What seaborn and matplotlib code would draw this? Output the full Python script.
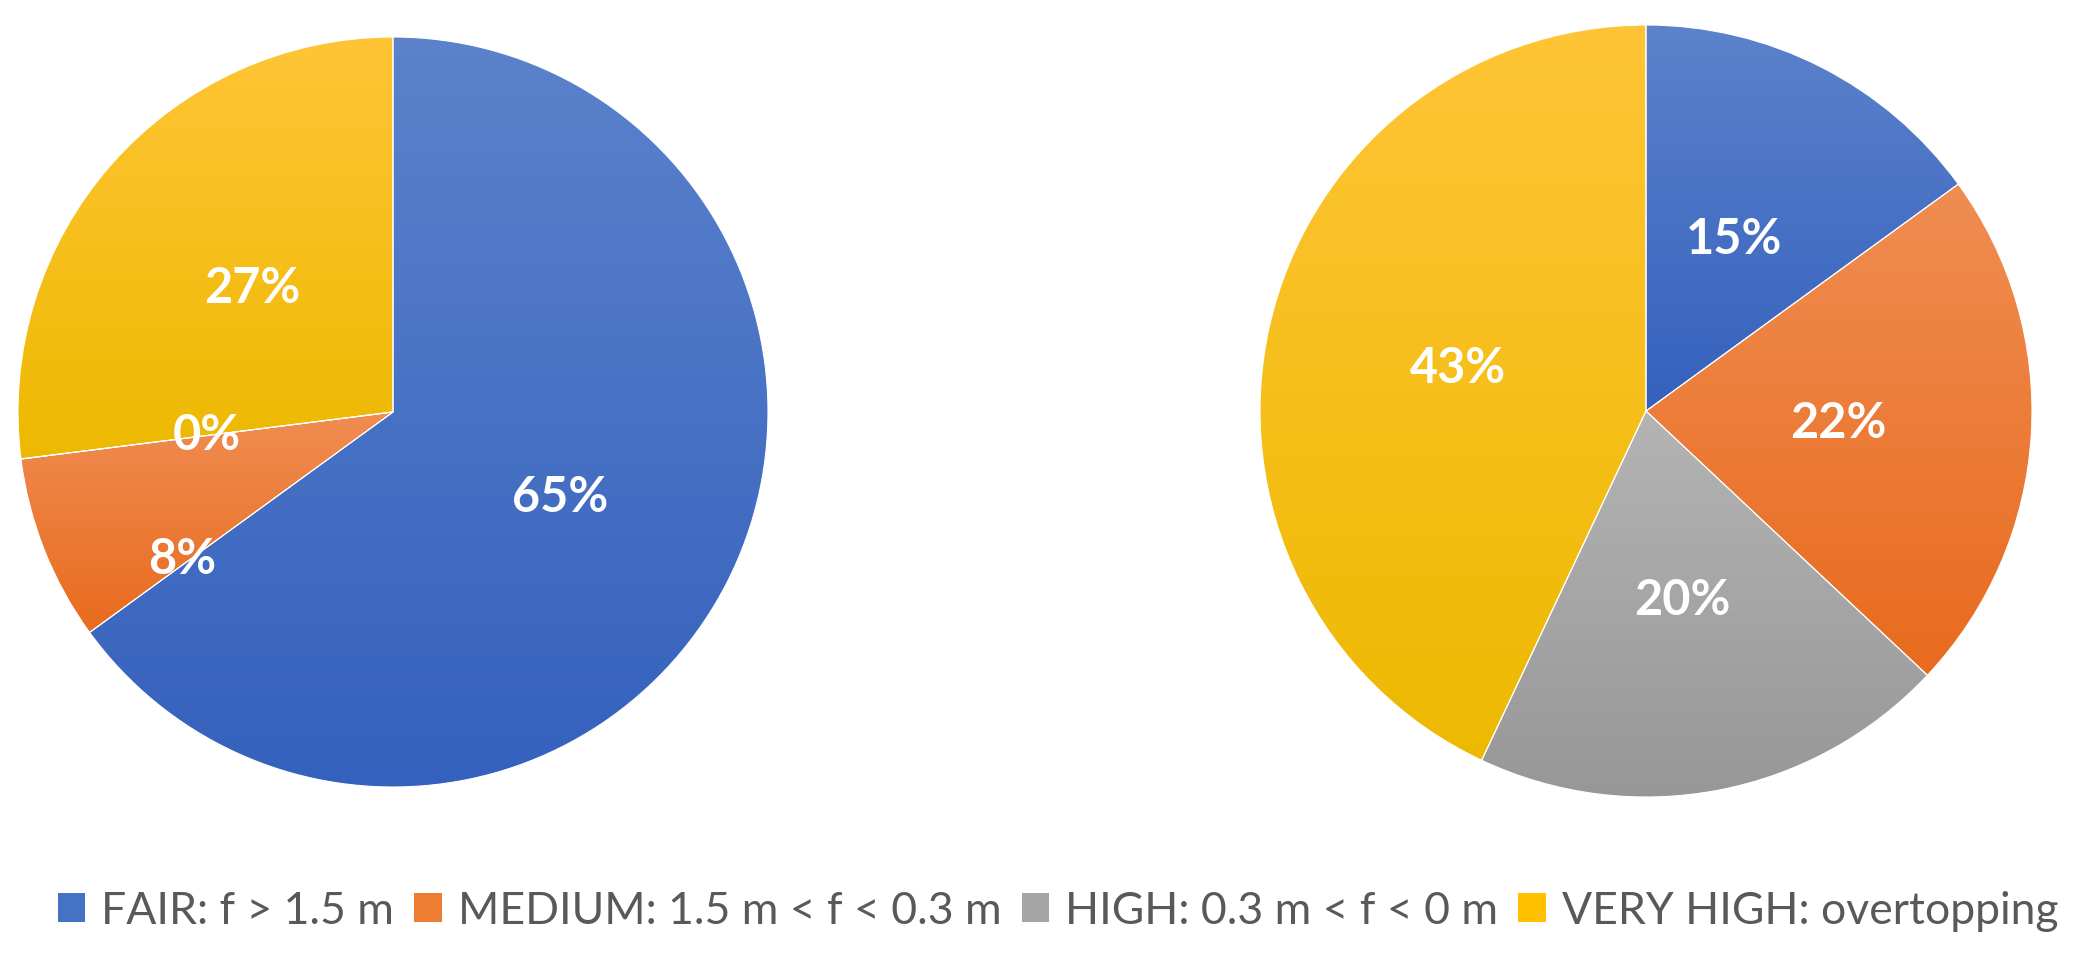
import numpy as np
import matplotlib
matplotlib.use("Agg")
import matplotlib.pyplot as plt
import matplotlib.colors as mcolors
from matplotlib.patches import Patch
import seaborn as sns

# ---- data ----
categories = ["FAIR: f > 1.5 m", "MEDIUM: 1.5 m < f < 0.3 m",
              "HIGH: 0.3 m < f < 0 m", "VERY HIGH: overtopping"]
left_values = [65, 8, 0, 27]
right_values = [15, 22, 20, 43]
base_colors = ["#4472C4", "#ED7D31", "#A5A5A5", "#FFC000"]
top_colors = ["#5B82CB", "#F08D52", "#B4B4B4", "#FFC536"]
bottom_colors = ["#3461BD", "#E86B1E", "#979797", "#EDB900"]

sns.set_theme(style="white")
plt.rcParams["font.family"] = ["Lato", "DejaVu Sans"]

W, H = 2074, 959
fig = plt.figure(figsize=(W / 100, H / 100), dpi=100)
fig.patch.set_facecolor("white")


def make_ax(cx, cy, r):
    ax = fig.add_axes([(cx - r) / W, (H - cy - r) / H, 2 * r / W, 2 * r / H])
    ax.set_axis_off()
    return ax


def draw_pie(ax, values):
    wedges, texts, autotexts = ax.pie(
        values, colors=base_colors, startangle=90, counterclock=False,
        radius=1.0, autopct=lambda p: f"{p:.0f}%", pctdistance=0.5,
        wedgeprops=dict(edgecolor="white", linewidth=0.8),
        textprops=dict(color="white", fontsize=35, fontweight="bold"))
    for w, ct, cb in zip(wedges, top_colors, bottom_colors):
        ext = w.get_path().get_extents()
        if ext.width <= 0 or ext.height <= 0:
            continue
        c0 = np.array(mcolors.to_rgb(cb))
        c1 = np.array(mcolors.to_rgb(ct))
        t = np.linspace(0, 1, 256)[:, None, None]
        grad = c0 * (1 - t) + c1 * t
        im = ax.imshow(grad, extent=[ext.x0, ext.x1, ext.y0, ext.y1],
                       origin="lower", aspect="auto", interpolation="bilinear",
                       zorder=w.get_zorder() + 0.1)
        im.set_clip_path(w)
        w.set_facecolor("none")
        w.set_zorder(w.get_zorder() + 0.2)
    for t_ in autotexts:
        t_.set_zorder(5)
    ax.set_xlim(-1, 1)
    ax.set_ylim(-1, 1)
    ax.set_aspect("equal", adjustable="box")
    return wedges, autotexts


ax1 = make_ax(393, 412, 375)
w1, at1 = draw_pie(ax1, left_values)
# small 8% label is shifted off-centre in the original (overlap avoidance)
at1[1].set_position((-0.563, -0.392))

ax2 = make_ax(1646, 411, 386)
w2, at2 = draw_pie(ax2, right_values)

handles = [Patch(facecolor=c, edgecolor="none") for c in base_colors]
leg = fig.legend(handles, categories, loc="center",
                 bbox_to_anchor=(1058 / W, 1 - 911 / H), ncol=4, frameon=False,
                 fontsize=32, handlelength=0.62, handleheight=0.62,
                 handletextpad=0.36, columnspacing=0.45, borderaxespad=0)
for txt in leg.get_texts():
    txt.set_color("#595959")

fig.savefig("out.png", dpi=100, facecolor="white")
